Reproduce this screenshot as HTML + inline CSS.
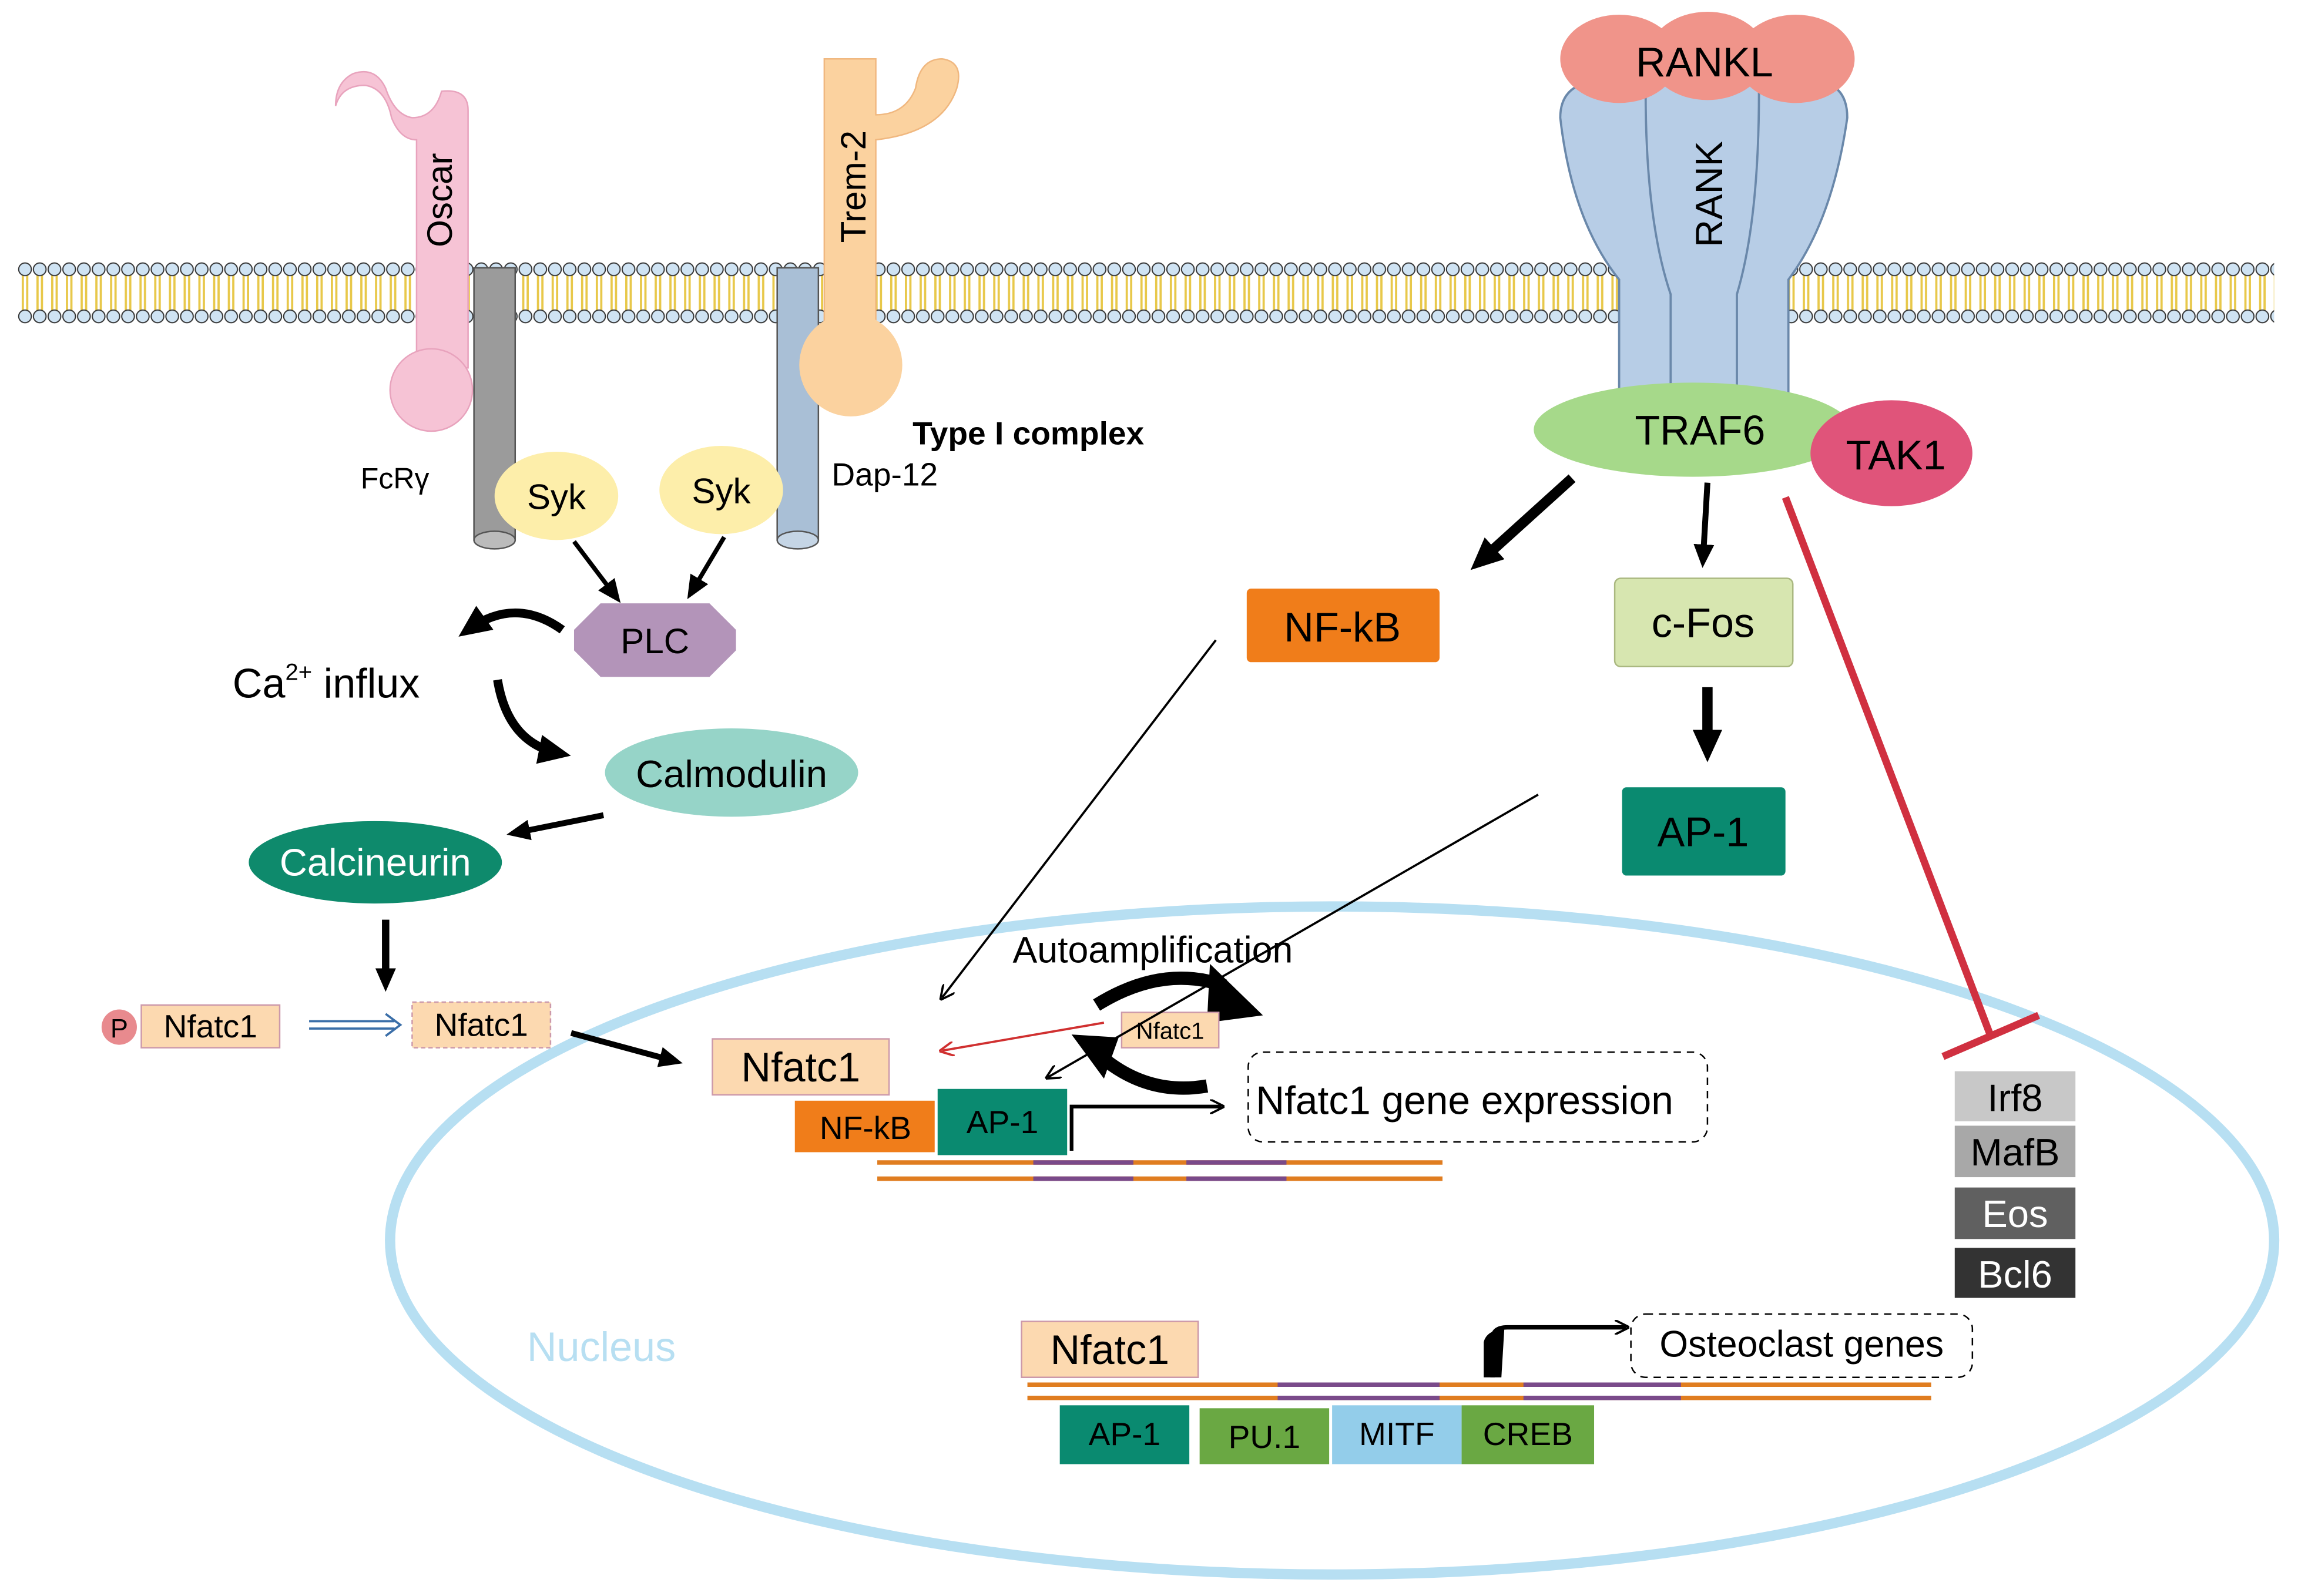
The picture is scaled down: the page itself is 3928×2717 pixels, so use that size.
<!DOCTYPE html>
<html><head><meta charset="utf-8"><style>
html,body{margin:0;padding:0;background:#fff;}
svg{display:block;}
text{font-family:"Liberation Sans",sans-serif;}
</style></head><body>
<svg width="3928" height="2717" viewBox="0 0 1568 1084.6" preserveAspectRatio="none" xmlns="http://www.w3.org/2000/svg">
<defs>
<pattern id="mem" x="12" y="177" width="10" height="44" patternUnits="userSpaceOnUse">
<line x1="3.5" y1="10" x2="3.5" y2="34" stroke="#e8c84a" stroke-width="1.5"/>
<line x1="6.5" y1="10" x2="6.5" y2="34" stroke="#e8c84a" stroke-width="1.5"/>
<circle cx="5" cy="6" r="4.3" fill="#cfe3f3" stroke="#333" stroke-width="0.8"/>
<circle cx="5" cy="38" r="4.3" fill="#cfe3f3" stroke="#333" stroke-width="0.8"/>
</pattern>
<marker id="ah" markerWidth="22" markerHeight="20" refX="14" refY="10" orient="auto" markerUnits="userSpaceOnUse"><path d="M0,0 L22,10 L0,20 z" fill="#000"/></marker>
<marker id="ahm" markerWidth="16" markerHeight="14" refX="10" refY="7" orient="auto" markerUnits="userSpaceOnUse"><path d="M0,0 L16,7 L0,14 z" fill="#000"/></marker>
<marker id="ahs" markerWidth="10" markerHeight="10" refX="8" refY="5" orient="auto" markerUnits="userSpaceOnUse"><path d="M0,0 L10,5 L0,10" fill="none" stroke="#000" stroke-width="1.5"/></marker>
<marker id="ahr" markerWidth="10" markerHeight="10" refX="8" refY="5" orient="auto" markerUnits="userSpaceOnUse"><path d="M0,0 L10,5 L0,10" fill="none" stroke="#d03030" stroke-width="1.5"/></marker>
</defs>
<rect x="12" y="177" width="1533" height="44" fill="url(#mem)"/>

<ellipse cx="905" cy="843" rx="640" ry="227" fill="none" stroke="#b7dff2" stroke-width="7"/>
<text x="358" y="925" font-size="28" fill="#b7dff2">Nucleus</text>

<path d="M228,72 Q232,58 248,58 Q262,60 266,80 Q272,95 283,95 L283,250 L318,250 L318,75 Q318,60 300,62 Q295,80 280,80 Q268,78 262,60 Q255,45 240,50 Q228,56 228,72 z" fill="#f6c3d5" stroke="#e8a3bd"/>
<circle cx="293" cy="265" r="28" fill="#f6c3d5" stroke="#e8a3bd"/>
<text transform="translate(307,168) rotate(-90)" font-size="24">Oscar</text>
<rect x="322" y="182" width="28" height="185" fill="#9b9b9b" stroke="#555"/>
<ellipse cx="336" cy="367" rx="14" ry="6" fill="#bbb" stroke="#555"/>
<text x="245" y="332" font-size="20">FcRγ</text>
<rect x="528" y="182" width="28" height="185" fill="#a9bfd6" stroke="#555"/>
<ellipse cx="542" cy="367" rx="14" ry="6" fill="#c5d5e5" stroke="#555"/>
<text x="565" y="330" font-size="22">Dap-12</text>
<path d="M560,40 L595,40 L595,78 Q615,78 622,60 Q625,40 640,40 Q655,42 650,60 Q640,90 595,95 L595,240 L560,240 z" fill="#fbd29f" stroke="#f0b880"/>
<circle cx="578" cy="248" r="35" fill="#fbd29f"/>
<text transform="translate(588,165) rotate(-90)" font-size="24">Trem-2</text>
<text x="620" y="302" font-size="22" font-weight="bold">Type I complex</text>
<ellipse cx="378" cy="337" rx="42" ry="30" fill="#fdeeaa"/>
<text x="378" y="346" font-size="24" text-anchor="middle">Syk</text>
<ellipse cx="490" cy="333" rx="42" ry="30" fill="#fdeeaa"/>
<text x="490" y="342" font-size="24" text-anchor="middle">Syk</text>
<line x1="390" y1="368" x2="418" y2="405" stroke="#000" stroke-width="3" marker-end="url(#ahm)"/>
<line x1="492" y1="365" x2="470" y2="402" stroke="#000" stroke-width="3" marker-end="url(#ahm)"/>
<polygon points="408,410 482,410 500,428 500,442 482,460 408,460 390,442 390,428" fill="#b394b9"/>
<text x="445" y="444" font-size="24" text-anchor="middle">PLC</text>
<path d="M382,428 Q350,405 318,428" fill="none" stroke="#000" stroke-width="6" marker-end="url(#ah)"/>
<text x="158" y="474" font-size="28">Ca<tspan font-size="16" dy="-12">2+</tspan><tspan dy="12"> influx</tspan></text>
<path d="M338,462 Q345,505 380,512" fill="none" stroke="#000" stroke-width="6" marker-end="url(#ah)"/>
<ellipse cx="497" cy="525" rx="86" ry="30" fill="#96d4c8"/>
<text x="497" y="535" font-size="26" text-anchor="middle">Calmodulin</text>
<line x1="410" y1="554" x2="350" y2="566" stroke="#000" stroke-width="4" marker-end="url(#ahm)"/>
<ellipse cx="255" cy="586" rx="86" ry="28" fill="#0e8a6c"/>
<text x="255" y="595" font-size="26" text-anchor="middle" fill="#fff">Calcineurin</text>
<line x1="262" y1="625" x2="262" y2="668" stroke="#000" stroke-width="5" marker-end="url(#ahm)"/>
<circle cx="81" cy="698" r="12" fill="#e88a8e"/>
<text x="81" y="705" font-size="18" text-anchor="middle">P</text>
<rect x="96" y="683" width="94" height="29" fill="#fcd9b0" stroke="#c9a"/>
<text x="143" y="705" font-size="22" text-anchor="middle">Nfatc1</text>
<line x1="210" y1="694" x2="268" y2="694" stroke="#3a6ea8" stroke-width="1.5"/>
<line x1="210" y1="699" x2="268" y2="699" stroke="#3a6ea8" stroke-width="1.5"/>
<path d="M262,689 L272,696.5 L262,704" fill="none" stroke="#3a6ea8" stroke-width="1.5"/>
<rect x="280" y="681" width="94" height="31" fill="#fcd9b0" stroke="#c9a" stroke-dasharray="3,2"/>
<text x="327" y="704" font-size="22" text-anchor="middle">Nfatc1</text>
<line x1="388" y1="702" x2="458" y2="721" stroke="#000" stroke-width="4" marker-end="url(#ahm)"/>
<rect x="484" y="706" width="120" height="38" fill="#fcd9b0" stroke="#c9a"/>
<text x="544" y="735" font-size="28" text-anchor="middle">Nfatc1</text>
<rect x="540" y="748" width="95" height="35" fill="#f07d1a"/>
<text x="588" y="774" font-size="22" text-anchor="middle">NF-kB</text>
<rect x="637" y="740" width="88" height="45" fill="#0a8a70"/>
<text x="681" y="770" font-size="22" text-anchor="middle">AP-1</text>
<line x1="596" y1="790" x2="980" y2="790" stroke="#e07d20" stroke-width="3"/>
<line x1="596" y1="801" x2="980" y2="801" stroke="#e07d20" stroke-width="3"/>
<line x1="702" y1="790" x2="770" y2="790" stroke="#7a4a8a" stroke-width="3"/>
<line x1="702" y1="801" x2="770" y2="801" stroke="#7a4a8a" stroke-width="3"/>
<line x1="806" y1="790" x2="874" y2="790" stroke="#7a4a8a" stroke-width="3"/>
<line x1="806" y1="801" x2="874" y2="801" stroke="#7a4a8a" stroke-width="3"/>
<path d="M728,782 L728,752 L830,752" fill="none" stroke="#000" stroke-width="2.5" marker-end="url(#ahs)"/>
<rect x="848" y="715" width="312" height="61" rx="10" fill="none" stroke="#000" stroke-dasharray="5,4"/>
<text x="995" y="757" font-size="27" text-anchor="middle">Nfatc1 gene expression</text>
<text x="688" y="654" font-size="25">Autoamplification</text>
<path d="M745,683 Q790,655 832,670" fill="none" stroke="#000" stroke-width="9"/>
<polygon points="822,655 858,690 820,695" fill="#000"/>
<path d="M820,738 Q780,745 748,718" fill="none" stroke="#000" stroke-width="9"/>
<polygon points="728,703 760,705 750,733" fill="#000"/>
<rect x="762" y="688" width="66" height="24" fill="#fcd9b0" stroke="#c9a"/>
<text x="795" y="706" font-size="16" text-anchor="middle">Nfatc1</text>
<line x1="750" y1="695" x2="640" y2="714" stroke="#d03030" stroke-width="1.5" marker-end="url(#ahr)"/>
<line x1="826" y1="435" x2="640" y2="678" stroke="#000" stroke-width="1.5" marker-end="url(#ahs)"/>
<line x1="1045" y1="540" x2="712" y2="732" stroke="#000" stroke-width="1.5" marker-end="url(#ahs)"/>
<rect x="694" y="898" width="120" height="38" fill="#fcd9b0" stroke="#c9a"/>
<text x="754" y="927" font-size="28" text-anchor="middle">Nfatc1</text>
<line x1="698" y1="941" x2="1312" y2="941" stroke="#e07d20" stroke-width="3"/>
<line x1="698" y1="950" x2="1312" y2="950" stroke="#e07d20" stroke-width="3"/>
<line x1="868" y1="941" x2="978" y2="941" stroke="#7a4a8a" stroke-width="3"/>
<line x1="868" y1="950" x2="978" y2="950" stroke="#7a4a8a" stroke-width="3"/>
<line x1="1035" y1="941" x2="1142" y2="941" stroke="#7a4a8a" stroke-width="3"/>
<line x1="1035" y1="950" x2="1142" y2="950" stroke="#7a4a8a" stroke-width="3"/>
<rect x="720" y="955" width="88" height="40" fill="#0a8a70"/>
<text x="764" y="982" font-size="22" text-anchor="middle">AP-1</text>
<rect x="815" y="957" width="88" height="38" fill="#6aa843"/>
<text x="859" y="984" font-size="22" text-anchor="middle">PU.1</text>
<rect x="905" y="955" width="88" height="40" fill="#93cdea"/>
<text x="949" y="982" font-size="22" text-anchor="middle">MITF</text>
<rect x="993" y="955" width="90" height="40" fill="#6aa843"/>
<text x="1038" y="982" font-size="22" text-anchor="middle">CREB</text>
<path d="M1014,936 L1014,910 Q1014,902 1024,902 L1105,902" fill="none" stroke="#000" stroke-width="3" marker-end="url(#ahs)"/>
<path d="M1008,936 L1008,912 Q1010,904 1022,903 L1020,936 z" fill="#000"/>
<rect x="1108" y="893" width="232" height="43" rx="10" fill="none" stroke="#000" stroke-dasharray="5,4"/>
<text x="1224" y="922" font-size="25" text-anchor="middle">Osteoclast genes</text>
<path d="M1060,80 Q1060,55 1090,55 L1230,55 Q1255,55 1255,80 Q1245,150 1215,190 L1215,272 L1100,272 L1100,190 Q1068,150 1060,80 z" fill="#b7cde6" stroke="#6a88aa" stroke-width="1.5"/>
<path d="M1118,62 Q1118,150 1135,200 L1135,272 M1195,62 Q1195,150 1180,200 L1180,272" fill="none" stroke="#6a88aa" stroke-width="1.5"/>
<text transform="translate(1170,168) rotate(-90)" font-size="26">RANK</text>
<ellipse cx="1100" cy="40" rx="40" ry="30" fill="#f0948a"/>
<ellipse cx="1160" cy="38" rx="40" ry="30" fill="#f0948a"/>
<ellipse cx="1220" cy="40" rx="40" ry="30" fill="#f0948a"/>
<text x="1158" y="52" font-size="28" text-anchor="middle">RANKL</text>
<ellipse cx="1150" cy="292" rx="108" ry="32" fill="#a6d98a"/>
<text x="1155" y="302" font-size="28" text-anchor="middle">TRAF6</text>
<ellipse cx="1285" cy="308" rx="55" ry="36" fill="#e0547a"/>
<text x="1288" y="319" font-size="28" text-anchor="middle">TAK1</text>
<line x1="1068" y1="325" x2="1005" y2="382" stroke="#000" stroke-width="7" marker-end="url(#ah)"/>
<line x1="1160" y1="328" x2="1157" y2="380" stroke="#000" stroke-width="4" marker-end="url(#ahm)"/>
<rect x="847" y="400" width="131" height="50" rx="3" fill="#f07d1a"/>
<text x="912" y="436" font-size="28" text-anchor="middle">NF-kB</text>
<rect x="1097" y="393" width="121" height="60" rx="4" fill="#d7e6b0" stroke="#aab880"/>
<text x="1157" y="433" font-size="28" text-anchor="middle">c-Fos</text>
<line x1="1160" y1="467" x2="1160" y2="510" stroke="#000" stroke-width="7" marker-end="url(#ah)"/>
<rect x="1102" y="535" width="111" height="60" rx="3" fill="#0a8a70"/>
<text x="1157" y="575" font-size="28" text-anchor="middle">AP-1</text>
<line x1="1213" y1="338" x2="1352" y2="703" stroke="#d03040" stroke-width="5"/>
<line x1="1320" y1="718" x2="1385" y2="690" stroke="#d03040" stroke-width="5"/>
<rect x="1328" y="728" width="82" height="34" fill="#c8c8c8"/>
<text x="1369" y="755" font-size="26" text-anchor="middle">Irf8</text>
<rect x="1328" y="765" width="82" height="35" fill="#a8a8a8"/>
<text x="1369" y="792" font-size="26" text-anchor="middle">MafB</text>
<rect x="1328" y="807" width="82" height="35" fill="#606060"/>
<text x="1369" y="834" font-size="26" text-anchor="middle" fill="#fff">Eos</text>
<rect x="1328" y="848" width="82" height="34" fill="#333"/>
<text x="1369" y="875" font-size="26" text-anchor="middle" fill="#fff">Bcl6</text>
</svg>
</body></html>
